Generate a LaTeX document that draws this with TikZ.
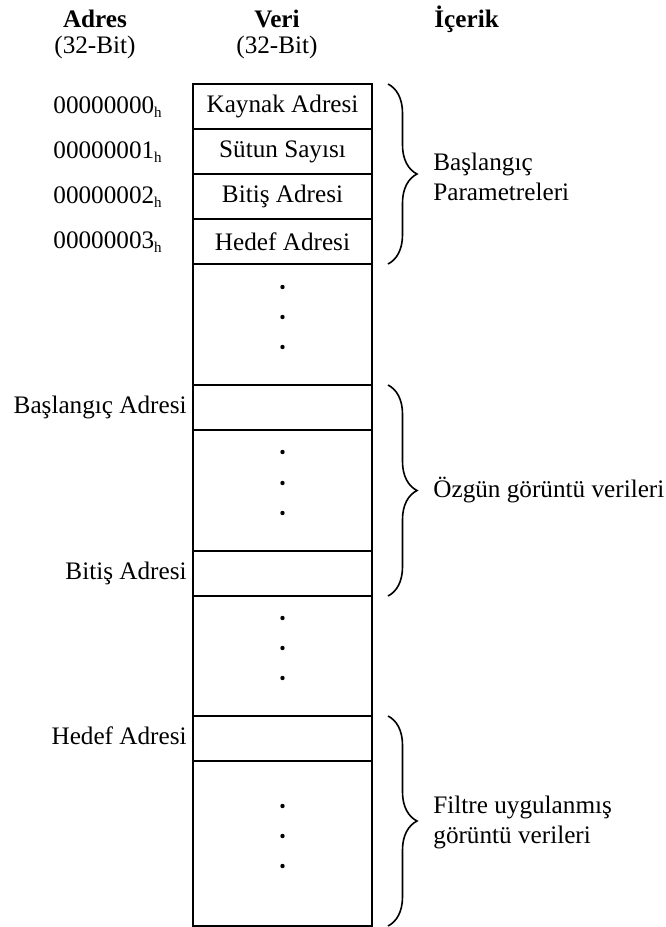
\documentclass[tikz,border=0pt]{standalone}
\usepackage{fontspec}
\setmainfont{Liberation Serif}
\usetikzlibrary{decorations.pathreplacing}

\newcommand{\hsub}{\raisebox{-2pt}{\fontsize{7.5}{7.5}\selectfont h}}

\begin{document}
\begin{tikzpicture}[x=0.5pt,y=-0.5pt,font=\fontsize{12.6}{15}\selectfont]
\tikzset{cell/.style = {shape=rectangle,draw,line width=1pt,minimum width=89.5pt,minimum height=22.5pt,inner sep=0pt,outer sep=0pt,anchor=north}}
\tikzset{blank/.style = {cell,minimum height=#1}}
\tikzset{head/.style = {anchor=base,inner sep=0pt,font=\fontsize{12.6}{15}\selectfont\bfseries}}
\tikzset{sub/.style = {anchor=base,inner sep=0pt}}
\tikzset{lbl/.style = {anchor=base east,inner sep=0pt}}
\tikzset{hex/.style = {anchor=base west,inner sep=0pt}}
\tikzset{note/.style = {anchor=west,align=left,inner sep=0pt}}
\tikzset{brc/.style = {decorate,decoration={brace,amplitude=14.5pt},line width=0.8pt}}

\useasboundingbox (0,0) rectangle (665,927);

%headers
\node[head] (adr) at (95,27) {Adres};
\node[sub] (adrbit) at (95,53) {(32-Bit)};
\node[head] (veri) at (277,27) {Veri};
\node[sub] (veribit) at (277,53) {(32-Bit)};
\node[head,anchor=base west] (icerik) at (434,27) {İçerik};

%memory column
\node[cell] (kaynak) at (282.5,84) {Kaynak Adresi};
\node[cell] (sutun) at (282.5,129) {Sütun Sayısı};
\node[cell] (bitisp) at (282.5,174) {Bitiş Adresi};
\node[cell] (hedefp) at (282.5,219) {Hedef Adresi};
\node[blank=60.5pt] (gap1) at (282.5,264) {};
\node[cell] (basadr) at (282.5,385) {};
\node[blank=60.5pt] (gap2) at (282.5,430) {};
\node[cell] (bitadr) at (282.5,551) {};
\node[blank=60pt] (gap3) at (282.5,596) {};
\node[cell] (hedadr) at (282.5,716) {};
\node[blank=82.5pt] (gap4) at (282.5,761) {};

%dots
\foreach \y in {287,317,347,452,483,513,618,648,678,806,836,866}
  \fill (282.5,\y) circle (1.1pt);

%addresses
\node[hex] (a0) at (53,113) {00000000\hsub};
\node[hex] (a1) at (53,158) {00000001\hsub};
\node[hex] (a2) at (53,203) {00000002\hsub};
\node[hex] (a3) at (53,248) {00000003\hsub};
\node[lbl] (basl) at (187,413) {Başlangıç Adresi};
\node[lbl] (bitl) at (187,579) {Bitiş Adresi};
\node[lbl] (hedl) at (187,744) {Hedef Adresi};

%braces
\draw[brc] ([xshift=8pt]kaynak.north east) -- ([xshift=8pt]hedefp.south east);
\draw[brc] ([xshift=8pt]basadr.north east) -- ([xshift=8pt]bitadr.south east);
\draw[brc] ([xshift=8pt]hedadr.north east) -- ([xshift=8pt]gap4.south east);

\node[note] (par) at (433,177) {Başlangıç\\Parametreleri};
\node[note] (ozg) at (433,490.5) {Özgün görüntü verileri};
\node[note] (fil) at (433,822) {Filtre uygulanmış\\görüntü verileri};

\end{tikzpicture}
\end{document}
